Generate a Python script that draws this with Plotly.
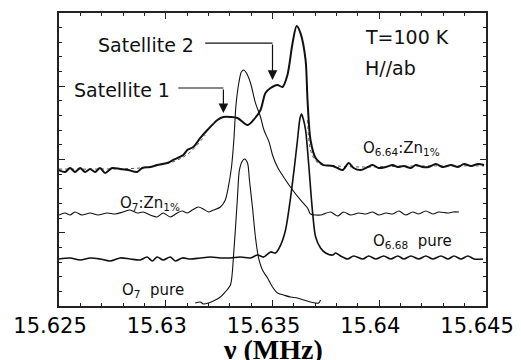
import numpy as np
import plotly.graph_objects as go

# Frequency offsets in kHz above 15.625 MHz, intensities in arbitrary (offset) units
zn664_khz = [0.00, 0.28, 0.52, 0.75, 0.99, 1.22, 1.46, 1.69, 1.92, 2.16, 2.49, 2.86, 3.24, 3.66, 3.90,
             4.27, 4.60, 5.07, 5.35, 5.82, 6.01, 6.29, 6.62, 6.95, 7.42, 7.70, 8.03, 8.36, 8.83, 9.11,
             9.44, 9.67, 9.91, 10.23, 10.47, 10.70, 10.94, 11.13, 11.31, 11.55, 11.64, 11.78, 12.02,
             12.25, 12.39, 12.82, 13.05, 13.29, 13.57, 13.80, 14.13, 14.46, 14.69, 14.98, 15.31, 15.63,
             15.87, 16.15, 16.48, 16.71, 17.04, 17.32, 17.65, 17.98, 18.36, 18.69, 18.97, 19.30, 19.62, 19.91]
zn664_int = [9.28, 9.15, 9.42, 9.15, 9.42, 9.15, 9.35, 9.15, 9.42, 9.08, 9.42, 9.35, 9.28, 9.15, 9.42,
             9.49, 9.62, 9.76, 9.97, 10.31, 10.65, 10.85, 11.47, 12.01, 12.70, 12.90, 12.90, 12.83, 12.35, 12.70,
             13.38, 14.54, 14.88, 15.09, 14.95, 15.77, 17.95, 19.11, 18.63, 16.79, 14.06, 11.33, 10.10,
             9.76, 9.62, 9.56, 9.42, 9.28, 9.76, 9.42, 9.28, 9.49, 9.62, 9.42, 9.49, 9.62,
             9.49, 9.56, 9.42, 9.62, 9.49, 9.49, 9.69, 9.49, 9.62, 9.49, 9.69, 9.56, 9.69, 9.62]

fit_left_khz = [0.00, 1.92, 3.80, 4.74, 5.45, 6.15, 6.85]
fit_left_int = [9.35, 9.35, 9.42, 9.62, 9.90, 10.51, 11.67]
fit_right_khz = [11.64, 11.78, 12.02, 12.35, 12.96, 14.13, 16.95, 19.91]
fit_right_int = [12.69, 10.65, 9.90, 9.62, 9.56, 9.49, 9.56, 9.56]

o7zn_khz = [0.00, 0.28, 0.52, 0.75, 1.08, 1.46, 1.83, 2.25, 2.63, 3.00, 3.33, 3.66, 3.94, 4.27, 4.60,
            4.88, 5.21, 5.54, 5.77, 6.01, 6.24, 6.53, 6.76, 7.00, 7.23, 7.56, 7.79, 7.93, 8.08, 8.19,
            8.29, 8.43, 8.54, 8.66, 8.78, 8.97, 9.20, 9.44, 9.60, 9.84, 10.00, 10.23, 10.52, 10.94,
            11.31, 11.64, 11.78, 12.02, 12.25, 12.39, 12.72, 13.05, 13.33, 13.66, 14.04, 14.37, 14.69,
            14.98, 15.31, 15.63, 15.92, 16.24, 16.57, 16.85, 17.18, 17.51, 17.79, 18.22, 18.45, 18.73]
o7zn_int = [6.21, 6.35, 6.21, 6.42, 6.21, 6.35, 6.21, 6.35, 6.28, 6.42, 6.55, 6.35, 6.42, 6.21, 6.08,
            6.35, 6.08, 6.35, 6.48, 6.35, 6.55, 6.76, 6.62, 6.42, 6.55, 6.76, 7.24, 8.12, 9.49, 11.33,
            13.72, 15.29, 15.97, 16.11, 15.90, 15.22, 13.86, 12.90, 12.01, 11.19, 10.31, 9.49, 8.81, 7.92,
            7.24, 6.69, 6.28, 6.21, 6.21, 6.28, 6.42, 6.14, 6.42, 6.21, 6.35, 6.28, 6.42,
            6.21, 6.35, 6.28, 6.48, 6.21, 6.42, 6.28, 6.48, 6.28, 6.42, 6.35, 6.42, 6.42]

o668_khz = [0.00, 0.52, 0.99, 1.46, 1.92, 2.39, 2.86, 3.33, 3.80, 4.13, 4.37, 4.60, 4.88, 5.21, 5.45,
            5.77, 6.15, 6.62, 7.09, 7.56, 8.03, 8.50, 8.97, 9.30, 9.58, 9.91, 10.14, 10.38, 10.61, 10.85,
            11.08, 11.17, 11.29, 11.36, 11.43, 11.55, 11.69, 11.88, 12.02, 12.25, 12.49, 12.82, 12.96,
            13.19, 13.52, 13.80, 14.23, 14.51, 14.84, 15.21, 15.54, 15.87, 16.15, 16.48, 16.85, 17.18,
            17.51, 17.89, 18.22, 18.50, 18.83, 19.15, 19.44, 19.86]
o668_int = [3.21, 3.28, 3.14, 3.28, 3.21, 3.07, 3.28, 3.21, 3.14, 3.34, 3.07, 3.34, 3.14, 3.34, 3.07,
            3.28, 3.21, 3.28, 3.34, 3.28, 3.28, 3.34, 3.28, 3.48, 3.34, 3.69, 3.62, 4.16, 5.19, 7.44,
            10.17, 11.33, 12.83, 13.11, 12.83, 12.01, 9.76, 6.35, 4.71, 3.96, 3.62, 3.48, 3.62,
            3.41, 3.21, 3.41, 3.21, 3.41, 3.21, 3.41, 3.21, 3.41, 3.21, 3.41, 3.21, 3.41,
            3.21, 3.41, 3.21, 3.41, 3.21, 3.41, 3.21, 3.21]

o7_khz = [6.38, 6.62, 6.76, 7.00, 7.23, 7.56, 7.79, 8.03, 8.12, 8.17, 8.26, 8.36, 8.45, 8.59, 8.69,
          8.83, 8.92, 9.06, 9.20, 9.34, 9.53, 9.77, 10.00, 10.23, 10.52, 10.85, 11.17, 11.46, 11.78,
          12.02, 12.16, 12.25]
o7_int = [0.20, 0.27, 0.14, 0.20, 0.34, 0.61, 0.96, 1.43, 2.32, 3.34, 5.19, 7.44, 9.28, 9.90, 10.03,
          9.76, 8.60, 6.76, 4.71, 3.34, 2.46, 1.91, 1.30, 0.89, 0.75, 0.61, 0.55, 0.41, 0.27,
          0.20, 0.20, 0.41]

tick_vals = [15.625, 15.63, 15.635, 15.64, 15.645]
tick_text = ["15.625", "15.63", "15.635", "15.64", "15.645"]

F0 = 15.625


def mhz(khz):
    return F0 + np.array(khz) / 1000.0


INK = "#111111"
fig = go.Figure()
fig.add_trace(go.Scatter(x=mhz(fit_left_khz), y=fit_left_int, mode="lines",
                         line=dict(color="#555555", width=1, dash="dot", shape="spline")))
fig.add_trace(go.Scatter(x=mhz(fit_right_khz), y=fit_right_int, mode="lines",
                         line=dict(color="#555555", width=1, dash="dot", shape="spline")))
fig.add_trace(go.Scatter(x=mhz(zn664_khz), y=zn664_int, mode="lines",
                         line=dict(color=INK, width=2, shape="spline", smoothing=0.8)))
fig.add_trace(go.Scatter(x=mhz(o7zn_khz), y=o7zn_int, mode="lines",
                         line=dict(color=INK, width=1.1, shape="spline", smoothing=0.8)))
fig.add_trace(go.Scatter(x=mhz(o668_khz), y=o668_int, mode="lines",
                         line=dict(color=INK, width=1.6, shape="spline", smoothing=0.8)))
fig.add_trace(go.Scatter(x=mhz(o7_khz), y=o7_int, mode="lines",
                         line=dict(color=INK, width=1.1, shape="spline", smoothing=0.8)))

# arrow elbows
fig.add_shape(type="line", x0=mhz([6.85])[0], x1=mhz([10.00])[0], y0=17.95, y1=17.95,
              line=dict(color=INK, width=1.2))
fig.add_shape(type="line", x0=mhz([5.59])[0], x1=mhz([7.70])[0], y0=14.88, y1=14.88,
              line=dict(color=INK, width=1.2))
fig.add_annotation(x=mhz([10.00])[0], y=15.43, ax=mhz([10.00])[0], ay=17.95, axref="x", ayref="y",
                   xref="x", yref="y", text="", showarrow=True, arrowhead=2, arrowsize=1.6,
                   arrowwidth=1.2, arrowcolor=INK)
fig.add_annotation(x=mhz([7.70])[0], y=13.17, ax=mhz([7.70])[0], ay=14.88, axref="x", ayref="y",
                   xref="x", yref="y", text="", showarrow=True, arrowhead=2, arrowsize=1.6,
                   arrowwidth=1.2, arrowcolor=INK)

TXT = dict(family="DejaVu Sans", size=19, color=INK)
LBL = dict(family="DejaVu Sans", size=15, color=INK)
notes = [
    ("Satellite 2", 4.06, 17.82, "center", TXT),
    ("Satellite 1", 2.93, 14.74, "center", TXT),
    ("T=100 K", 14.23, 18.33, "left", TXT),
    ("H//ab", 14.23, 16.28, "left", TXT),
    ("O<sub>6.64</sub>:Zn<sub>1%</sub>", 14.13, 10.75, "left", LBL),
    ("O<sub>7</sub>:Zn<sub>1%</sub>", 2.77, 7.0, "left", LBL),
    ("O<sub>6.68</sub>  pure", 14.60, 4.40, "left", LBL),
    ("O<sub>7</sub>  pure", 2.86, 1.05, "left", LBL),
]
for t, xk, yv, anc, f in notes:
    fig.add_annotation(x=mhz([xk])[0], y=yv, text=t, showarrow=False, xanchor=anc,
                       yanchor="middle", font=f)

# axis title placed as a paper annotation so the margins stay fixed
fig.add_annotation(x=0.5, y=-0.148, xref="paper", yref="paper", text="<b>ν (MHz)</b>",
                   showarrow=False, xanchor="center", yanchor="middle",
                   font=dict(family="Liberation Serif", size=28, color="#000000"))

axis_common = dict(showline=True, linecolor="#222222", linewidth=1.5, mirror="allticks",
                   ticks="inside", ticklen=6, tickcolor="#222222", tickwidth=1.2,
                   showgrid=False, zeroline=False, automargin=False)
fig.update_xaxes(range=[15.625, 15.645], tickvals=tick_vals, ticktext=tick_text,
                 tickfont=dict(family="DejaVu Sans", size=21, color="#000000"),
                 ticklabelshift=-9,
                 minor=dict(dtick=0.001, ticks="inside", ticklen=3.5, tickcolor="#222222", tickwidth=1),
                 **axis_common)
fig.update_yaxes(range=[0, 20], tickvals=[0, 5, 10, 15, 20], showticklabels=False,
                 minor=dict(dtick=1, ticks="inside", ticklen=3.5, tickcolor="#222222", tickwidth=1),
                 **axis_common)
fig.update_layout(width=521, height=360, margin=dict(l=59, r=35, t=13, b=54),
                  paper_bgcolor="white", plot_bgcolor="white", showlegend=False)
fig.write_html("out.html")
